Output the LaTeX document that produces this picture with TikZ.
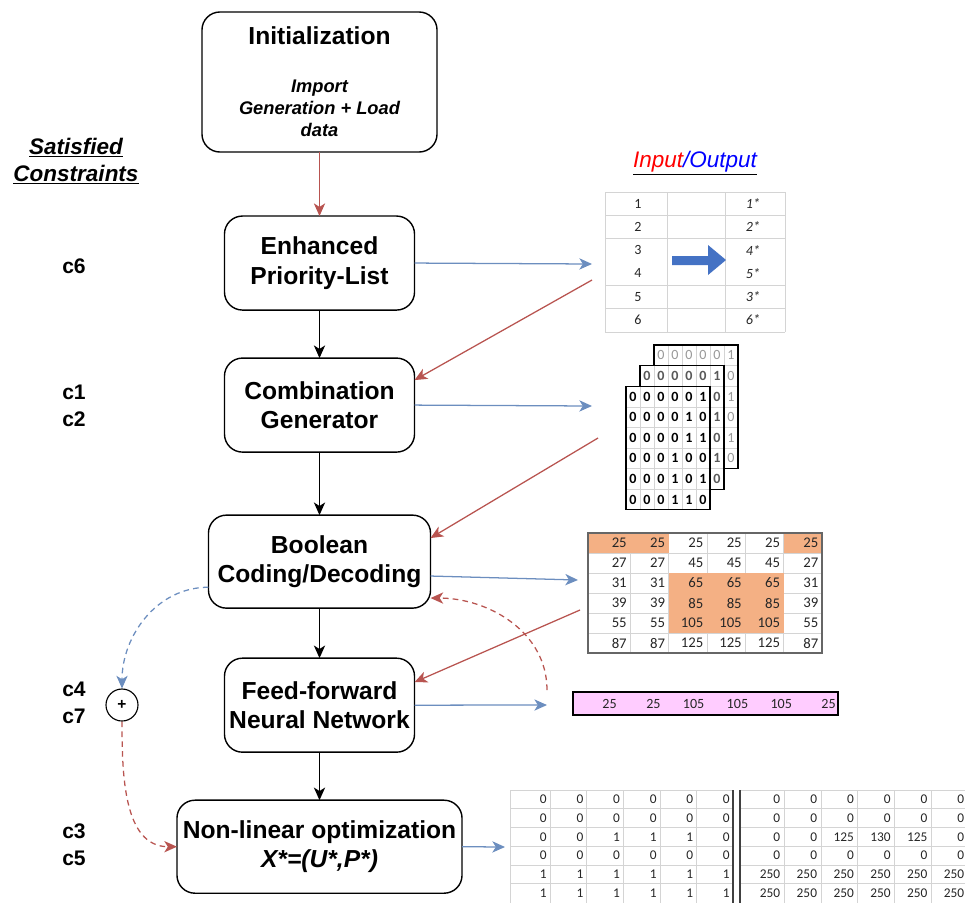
\documentclass[tikz,border=0pt]{standalone}
\usepackage{fontspec}
\setmainfont{Liberation Sans}
\newfontfamily\cellfont{Carlito}
\usetikzlibrary{positioning, arrows.meta}

\definecolor{linkblue}{HTML}{6C8EBF}
\definecolor{linkred}{HTML}{B85450}
\definecolor{hiorange}{HTML}{F4B084}
\definecolor{hipink}{HTML}{FFCCFF}
\definecolor{fatblue}{HTML}{4472C4}
\definecolor{gridgray}{HTML}{D4D4D4}

\tikzset{
>={Stealth[length=9pt, width=8pt, inset=2.5pt]}, % arrow heads of all connectors
x=0.025cm, y=-0.025cm, % one unit is one pixel of the sketch, y runs down
block/.style={draw, line width=1pt, outer sep=0pt, rounded corners=0.45cm, align=center, inner sep=2pt,
  minimum width=4.75cm, minimum height=2.35cm, font=\bfseries\fontsize{17.5}{21}\selectfont}, % the stages
flow/.style={->, line width=0.9pt}, % connectors between stages
feedback/.style={flow, dash pattern=on 4pt off 3pt}, % dashed feedback links
cname/.style={font=\bfseries\fontsize{15}{19}\selectfont, align=left}, % constraint labels
entry/.style={font=\cellfont\fontsize{10}{11}\selectfont, text=black!85, inner sep=0pt}, % table entries
}

\begin{document}
\begin{tikzpicture}
\useasboundingbox (0,0) rectangle (965,903);

% stages
\node[block, minimum width=5.875cm, minimum height=3.5cm, font=\bfseries\itshape\fontsize{13}{15.6}\selectfont] (init) at (319.5,82)
  {{\upshape\fontsize{17.5}{21}\selectfont Initialization}\\[18.5pt]Import\\Generation + Load\\data};
\node[block, below=1.6cm of init] (prio) {Enhanced\\Priority-List};
\node[block, below=1.2cm of prio] (comb) {Combination\\Generator};
\node[block, below=1.575cm of comb, minimum width=5.55cm, minimum height=2.325cm] (bool) {Boolean\\Coding/Decoding};
\node[block, below=1.25cm of bool] (ffnn) {Feed-forward\\Neural Network};
\node[block, below=1.2cm of ffnn, minimum width=7.125cm, minimum height=2.325cm] (nlo) {Non-linear optimization\\{\itshape X*=(U*,P*)}};

% labels
\node[font=\bfseries\itshape\fontsize{16}{19}\selectfont, align=center] (sat) at (76,161) {\underline{Satisfied}\\\underline{Constraints}};
\node[font=\itshape\fontsize{16}{19}\selectfont] (io) at (695,163) {\underline{\textcolor{red}{Input}\textcolor{blue}{/Output}}};
\node[cname] (c6) at (74,266) {c6};
\node[cname] (c12) at (74,406) {c1\\c2};
\node[cname] (c47) at (74,703) {c4\\c7};
\node[cname] (c35) at (74,845) {c3\\c5};
\node[draw, circle, line width=0.8pt, minimum size=0.8cm, inner sep=0pt, font=\bfseries\fontsize{11}{11}\selectfont] (sum) at (122,705) {+};

% priority list
\foreach \y in {192,215,238,285,308,332}
  \draw[gridgray] (605,\y) -- (785,\y);
\foreach \x in {605,667,725,785}
  \draw[gridgray] (\x,192) -- (\x,332);
\foreach \p/\q [count=\i from 0] in {1/1,2/2,3/4,4/5,5/3,6/6} {
  \node[entry] (pl-\p) at (638,203.5+23.3*\i) {\p};
  \node[entry, font=\cellfont\itshape\fontsize{10}{11}\selectfont] (pr-\p) at (753,203.5+23.3*\i) {\q*};
}
\fill[fatblue] (672,256) -- (708,256) -- (708,245) -- (726,260) -- (708,275) -- (708,265) -- (672,265) -- cycle;

% stacked combination matrices, back to front (hidden digits are left out)
\foreach \cx/\cy/\tone/\wt in {2/0/black!40/\mdseries, 1/1/black!65/\bfseries, 0/2/black/\bfseries} {
  \fill[white] (626+14*\cx,345+20.6*\cy) rectangle ++(84,123.6);
  \foreach \k in {1,...,5} {
    \draw[gridgray] (626+14*\cx+14*\k,345+20.6*\cy) -- ++(0,123.6);
    \draw[gridgray] (626+14*\cx,345+20.6*\cy+20.6*\k) -- ++(84,0);
  }
  \draw[line width=0.8pt] (626+14*\cx,345+20.6*\cy) rectangle ++(84,123.6);
  \foreach \bits [count=\i from 0] in {{0,0,0,0,0,1},{0,0,0,0,1,0},{0,0,0,0,1,1},{0,0,0,1,0,0},{0,0,0,1,0,1},{0,0,0,1,1,0}}
    \foreach \d [count=\j from 0] in \bits {
      \pgfmathtruncatemacro\seen{(\i==0)||(\j==5)||(\cx==0)}
      \ifnum\seen=1
        \node[entry, text=\tone, font=\cellfont\wt\fontsize{10}{10}\selectfont] (m\cx-\i-\j) at (633+14*\cx+14*\j,355.3+20.6*\cy+20.6*\i) {\d};
      \fi
    }
}

% decoded values
\foreach \k in {1,...,5} {
  \draw[gridgray] (592+38.33*\k,533) -- (592+38.33*\k,653);
  \draw[gridgray] (588,533+20*\k) -- (822,533+20*\k);
}
\fill[hiorange] (588,533) rectangle (668.7,553);
\fill[hiorange] (783.7,533) rectangle (822,553);
\fill[hiorange] (668.7,573) rectangle (783.7,633);
\draw[black!60, line width=0.8pt] (588,533) rectangle (822,653);
\foreach \row [count=\i from 0] in {{25,25,25,25,25,25},{27,27,45,45,45,27},{31,31,65,65,65,31},{39,39,85,85,85,39},{55,55,105,105,105,55},{87,87,125,125,125,87}}
  \foreach \v [count=\j from 0] in \row
    \node[entry, anchor=east, font=\cellfont\fontsize{10.5}{11}\selectfont] (o-\i-\j) at (627+38.33*\j,543+20*\i) {\v};

% network output
\fill[hipink] (573,692) rectangle (838,715);
\draw[line width=1.2pt] (573,692) rectangle (838,715);
\foreach \v [count=\j from 0] in {25,25,105,105,105,25}
  \node[entry, anchor=east, font=\cellfont\fontsize{10}{11}\selectfont] (n-\j) at (617+43.8*\j,703.5) {\v};

% optimal commitment and dispatch
\foreach \k in {0,...,5} {
  \draw[gridgray] (510,790+18.7*\k) -- (733,790+18.7*\k);
  \draw[gridgray] (740,790+18.7*\k) -- (965,790+18.7*\k);
}
\foreach \k in {1,...,5}
  \draw[gridgray] (733-36.6*\k,790) -- ++(0,113);
\foreach \k in {0,...,5}
  \draw[gridgray] (784+36.8*\k,790) -- ++(0,113);
\draw[gridgray] (510,790) -- (510,903);
\draw[black!75, line width=1.2pt] (733,790) -- (733,903);
\draw[black!75, line width=1.2pt] (740,790) -- (740,903);
\foreach \row [count=\i from 0] in {{0,0,0,0,0,0},{0,0,0,0,0,0},{0,0,1,1,1,0},{0,0,0,0,0,0},{1,1,1,1,1,1},{1,1,1,1,1,1}}
  \foreach \v [count=\j from 0] in \row
    \node[entry, anchor=east, font=\cellfont\fontsize{9.5}{10}\selectfont] (u-\i-\j) at (547+36.6*\j,799.4+18.7*\i) {\v};
\foreach \row [count=\i from 0] in {{0,0,0,0,0,0},{0,0,0,0,0,0},{0,0,125,130,125,0},{0,0,0,0,0,0},{250,250,250,250,250,250},{250,250,250,250,250,250}}
  \foreach \v [count=\j from 0] in \row
    \node[entry, anchor=east, font=\cellfont\fontsize{9.5}{10}\selectfont] (g-\i-\j) at (780.5+36.8*\j,799.4+18.7*\i) {\v};

% connector ends at the tables
\coordinate (prio-in) at (592,264);
\coordinate (prio-out) at (592,280);
\coordinate (comb-in) at (592,406);
\coordinate (comb-out) at (598,438);
\coordinate (bool-in) at (578,580);
\coordinate (bool-out) at (580,610);
\coordinate (ffnn-in) at (547,705);
\coordinate (ffnn-back) at (547,690);
\coordinate (nlo-in) at (505,847);

% connectors
\draw[flow, linkred] (init) -- (prio);
\draw[flow] (prio) -- (comb);
\draw[flow] (comb) -- (bool);
\draw[flow] (bool) -- (ffnn);
\draw[flow] (ffnn) -- (nlo);
\draw[flow, linkblue] (prio.east) -- (prio-in);
\draw[flow, linkblue] (comb.east) -- (comb-in);
\draw[flow, linkblue] ([yshift=-0.36cm]bool.east) -- (bool-in);
\draw[flow, linkblue] (ffnn.east) -- (ffnn-in);
\draw[flow, linkblue] (nlo.east) -- (nlo-in);
\draw[flow, linkred] (prio-out) -- ([yshift=0.625cm]comb.east);
\draw[flow, linkred] (comb-out) -- ([yshift=0.59cm]bool.east);
\draw[flow, linkred] (bool-out) -- ([yshift=0.575cm]ffnn.east);
\draw[feedback, linkred] (ffnn-back) to[out=90, in=0] ([yshift=-0.91cm]bool.east);
\draw[feedback, linkblue] ([yshift=-0.64cm]bool.west) to[out=180, in=90] (sum.north);
\draw[feedback, linkred] (sum.south) to[out=-90, in=180] (nlo.west);
\end{tikzpicture}
\end{document}
